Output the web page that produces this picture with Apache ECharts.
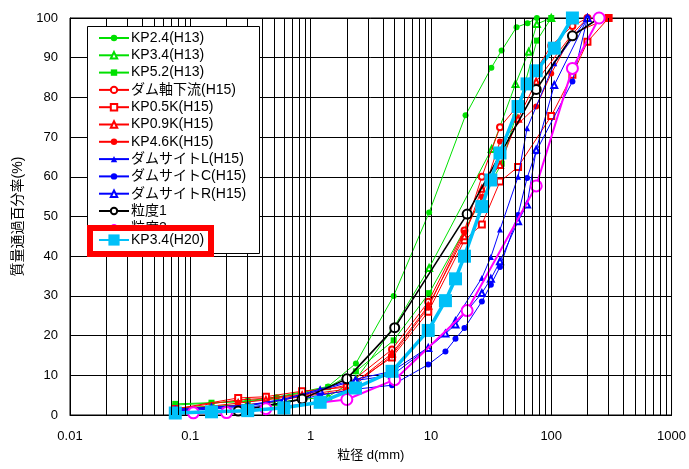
<!DOCTYPE html>
<html><head><meta charset="utf-8">
<script src="https://cdn.jsdelivr.net/npm/echarts@6/dist/echarts.min.js"></script>
<style>html,body{margin:0;padding:0;background:#fff}#c{width:689px;height:469px}</style>
</head><body><div id="c"></div>
<script>
// ---- data ----
const xTickLabels = ['0.01','0.1','1','10','100','1000'];
const decades = [0.01, 0.1, 1, 10, 100];
const minorMultipliers = [2,3,4,5,6,7,8,9];

const seriesNames = ['KP2.4(H13)','KP3.4(H13)','KP5.2(H13)','ダム軸下流(H15)','KP0.5K(H15)','KP0.9K(H15)','KP4.6K(H15)','ダムサイトL(H15)','ダムサイトC(H15)','ダムサイトR(H15)','粒度1','粒度2','KP3.4(H20)'];

const kp24_h13 = [[0.075,2.5],[0.15,3.0],[0.3,3.6],[0.52,4.5],[1.4,7.2],[2.38,13],[4.9,30],[9.66,51],[19.4,75.5],[31.8,87.5],[38.7,91.8],[51.5,97.7],[63.5,98.7],[76,100]];
const kp34_h13 = [[0.075,1.8],[0.15,2.2],[0.3,2.6],[0.52,3.2],[1.4,4.6],[2.38,9],[4.9,22],[9.66,37],[32,67],[50.5,83.4],[65,91.5],[76,98.5],[100,100]];
const kp52_h13 = [[0.075,2.8],[0.15,3.1],[0.3,3.4],[0.52,4.3],[1.4,7],[2.38,11],[4.9,18.8],[9.66,30.7],[38.7,63.3],[50.5,75],[76,94.3],[100,100]];
const damDown_h15 = [[0.075,1.5],[0.25,3.8],[0.425,4.2],[0.85,5.2],[2,7.5],[4.75,16.5],[9.5,28.5],[19,46.5],[26.5,60],[37.5,72.5],[53,78],[75,87],[100,93],[150,98],[200,100]];
const kp05k_h15 = [[0.075,1.5],[0.25,4.3],[0.425,4.6],[0.85,6],[2,7],[4.75,14.5],[9.5,26],[19,44],[26.5,48],[37.5,58.8],[53,62.5],[100,75.3],[150,85.7],[200,94],[300,100]];
const kp09k_h15 = [[0.075,1.2],[0.25,3],[0.425,3.8],[0.85,5],[2,6.5],[4.75,15.5],[9.5,27.5],[19,45],[26.5,57],[37.5,63],[53,74.6],[75,84],[150,96],[200,100]];
const kp46k_h15 = [[0.075,1],[0.25,2.5],[0.425,3],[0.85,4.7],[2,6],[4.75,15],[9.5,27],[19,46],[26.5,55],[37.5,68.9],[75,77.7],[100,86],[150,96],[300,100]];
const damL_h15 = [[0.075,1.5],[0.15,2],[0.3,2.5],[0.6,4],[1.2,6.5],[2.36,9],[4.75,11],[9.5,17],[13.2,20.8],[16,24.2],[26.5,34.5],[31.5,39.8],[37.5,46.7],[53,60],[63,72.2],[106,88.6],[200,100]];
const damC_h15 = [[0.075,1],[0.15,1.5],[0.3,2],[0.6,3],[1.2,5],[2.36,6.5],[4.75,7.5],[9.5,12.7],[13.2,16],[16,19.2],[19,21.9],[26.5,28.6],[31.5,32.8],[37.5,37.3],[53,50.4],[63,59.7],[75,66.4],[150,84],[200,100]];
const damR_h15 = [[0.075,1.2],[0.15,1.8],[0.3,2.3],[0.6,3.8],[1.2,6.2],[2.36,8.7],[4.75,10],[9.5,16.9],[13.2,20.5],[16,22.8],[26.5,30.7],[31.5,34.3],[37.5,38.7],[53,48.8],[63,53],[75,66.8],[106,83.1],[200,100]];
const grain1 = [[0.25,1],[0.85,4],[2,9.1],[5,22],[20,50.6],[75,82],[150,95.5],[250,100]];
const grain2 = [[0.106,0.55],[0.2,0.6],[0.425,1.6],[2,3.9],[5,8.9],[20,26.3],[75,57.7],[150,87.3],[250,100]];
const kp34_h20 = [[0.075,0.5],[0.15,0.8],[0.3,1.1],[0.6,1.8],[1.2,3.2],[2.36,6.8],[4.75,11],[9.5,21.3],[13.2,28.8],[16,34.3],[19,40],[26.5,52.5],[31.5,59.2],[37.5,66],[53,77.7],[63,83.4],[75,86.7],[106,92.4],[150,100]];

const seriesData = [kp24_h13,kp34_h13,kp52_h13,damDown_h15,kp05k_h15,kp09k_h15,kp46k_h15,damL_h15,damC_h15,damR_h15,grain1,grain2,kp34_h20];

// ---- styles ----
const GREEN='#00e000', RED='#ff0000', BLUE='#0000ff', MAG='#ff00ff', CYAN='#00c0f8';
const styles = [
  {c:GREEN,s:'circle',z:6,w:1},
  {c:GREEN,s:'emptyTriangle',z:6,w:1},
  {c:GREEN,s:'rect',z:6,w:1},
  {c:RED,s:'emptyCircle',z:6,w:1},
  {c:RED,s:'emptyRect',z:6,w:1},
  {c:RED,s:'emptyTriangle',z:6,w:1},
  {c:RED,s:'circle',z:6,w:1},
  {c:BLUE,s:'triangle',z:6,w:1},
  {c:BLUE,s:'circle',z:6,w:1},
  {c:BLUE,s:'emptyTriangle',z:6,w:1},
  {c:'#000000',s:'emptyCircle',z:9,w:1.6},
  {c:MAG,s:'emptyCircle',z:11,w:2},
  {c:CYAN,s:'rect',z:13,w:3.5}
];

const minorValues = [];
decades.forEach(d => minorMultipliers.forEach(m => minorValues.push(+(d*m).toPrecision(3))));

const FONT = '"Liberation Sans","Noto Sans CJK JP",sans-serif';

const series = seriesData.map((d,i) => ({
  name: seriesNames[i], type:'line', data:d,
  symbol: styles[i].s, symbolSize: styles[i].z, showSymbol:true,
  lineStyle:{color:styles[i].c,width:styles[i].w},
  itemStyle:{color:styles[i].c,borderColor:styles[i].c,borderWidth: (styles[i].s.indexOf('empty')===0? (i>=10?1.6:1):0)},
  emphasis:{disabled:true}, animation:false, z: 2+i*0.01
}));
series.unshift({
  type:'line', data:[], silent:true, animation:false,
  markLine:{silent:true, symbol:['none','none'], label:{show:false}, animation:false,
    lineStyle:{color:'#000',width:1,type:'solid'}, emphasis:{disabled:true},
    data: minorValues.map(v=>({xAxis:v}))}
});

const chart = echarts.init(document.getElementById('c'), null, {renderer:'canvas'});
chart.setOption({
  backgroundColor:'#fff',
  animation:false,
  grid:{left:70,right:16,top:18,bottom:54,show:true,borderColor:'#000',borderWidth:1},
  xAxis:{type:'log',logBase:10,min:0.01,max:1000,
    name:'粒径 d(mm)',nameLocation:'middle',nameGap:34,
    nameTextStyle:{fontFamily:FONT,fontSize:13,color:'#000'},
    axisLine:{lineStyle:{color:'#000'}},axisTick:{show:false},
    axisLabel:{fontFamily:FONT,fontSize:13,color:'#000',margin:15,
      formatter:(v)=>{const l=Math.round(Math.log10(v))+2;return xTickLabels[l]!==undefined?xTickLabels[l]:'';}},
    splitLine:{show:true,lineStyle:{color:'#000',width:1}}},
  yAxis:{type:'value',min:0,max:100,interval:10,
    name:'質量通過百分率(%)',nameLocation:'middle',nameGap:44,nameRotate:90,
    nameTextStyle:{fontFamily:FONT,fontSize:14,color:'#000'},
    axisLine:{show:true,lineStyle:{color:'#000'}},axisTick:{show:false},
    axisLabel:{fontFamily:FONT,fontSize:13,color:'#000',margin:12},
    splitLine:{show:true,lineStyle:{color:'#000',width:1}}},
  legend:[
    {data:seriesNames.slice(0,12),orient:'vertical',left:98,top:31,padding:0,
     itemWidth:30,itemHeight:8,itemGap:3.3,z:20,
     textStyle:{fontFamily:FONT,fontSize:14,color:'#000',padding:[0,0,0,-3]},
     selectedMode:false},
    {data:[seriesNames[12]],orient:'vertical',left:98,top:233,padding:0,
     itemWidth:30,itemHeight:14,z:40,
     textStyle:{fontFamily:FONT,fontSize:14,color:'#000',padding:[0,0,0,-3]},
     selectedMode:false}
  ],
  graphic:{elements:[
    {type:'rect',z:15,silent:true,shape:{x:87.5,y:26.5,width:172,height:227},
     style:{fill:'#fff',stroke:'#000',lineWidth:1}},
    {type:'rect',z:30,silent:true,shape:{x:90,y:228,width:121,height:26},
     style:{fill:'#fff',stroke:'#ff0000',lineWidth:6}}
  ]},
  series: series
});
</script></body></html>
